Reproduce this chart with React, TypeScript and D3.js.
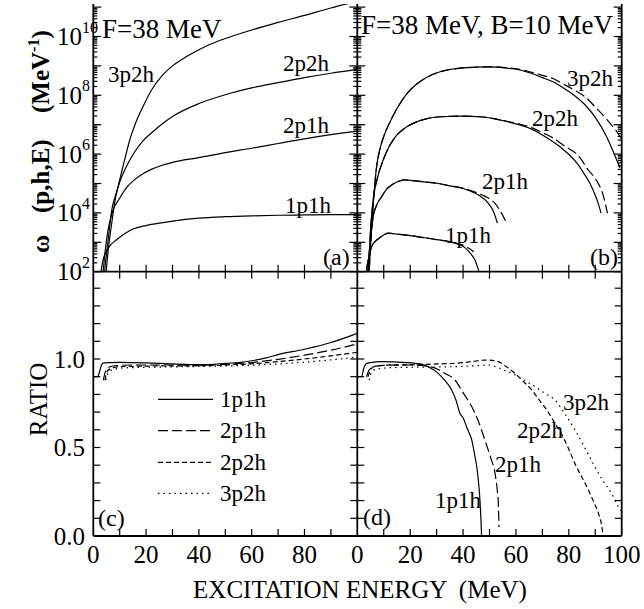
import React from 'react';
import * as d3 from 'd3';

type Pt = [number, number];

// Panel (a): log10 of omega(p,h,E) for the F = 38 MeV well (both calculations coincide)
const A_1P1H: Pt[] = [[2.6, 1.8], [3.0, 2.06], [4.0, 2.5], [4.9, 2.68], [6.5, 2.9], [8.7, 3.08], [12, 3.3], [15, 3.45], [20, 3.57], [26.4, 3.67], [30, 3.72], [40, 3.82], [50, 3.87], [60, 3.9], [70, 3.92], [80, 3.93], [90, 3.94], [100, 3.94]];
const A_2P1H: Pt[] = [[3.4, 1.8], [3.7, 2.0], [4.5, 2.7], [5.6, 3.42], [6.5, 3.8], [7.5, 4.1], [10, 4.5], [12.5, 4.85], [15, 5.08], [18.8, 5.33], [22, 5.48], [26.4, 5.63], [30, 5.72], [40, 5.88], [50, 6.05], [60, 6.2], [70, 6.36], [80, 6.52], [90, 6.66], [100, 6.78]];
const A_2P2H: Pt[] = [[4.0, 1.6], [4.3, 2.0], [5, 2.6], [6.2, 3.53], [7, 4.1], [8.7, 4.67], [10, 5.05], [12.5, 5.57], [15, 5.98], [18.8, 6.45], [22, 6.72], [26.4, 7.05], [30, 7.28], [40, 7.72], [50, 8.02], [60, 8.25], [70, 8.43], [80, 8.6], [90, 8.75], [100, 8.88]];
const A_3P2H: Pt[] = [[4.6, 1.6], [4.9, 2.0], [6, 3.0], [6.8, 3.53], [8, 4.3], [10, 5.12], [12, 5.85], [13.8, 6.48], [16, 7.05], [18.8, 7.61], [22, 8.17], [26.4, 8.7], [30, 9.0], [35, 9.3], [40, 9.55], [45, 9.76], [50, 9.93], [60, 10.22], [70, 10.48], [80, 10.72], [90, 10.97], [100, 11.2]];

// Panel (b): log10 of omega(p,h,E) with F = 38 MeV and B = 10 MeV (solid / dashed)
const B_1P1H_SOLID: Pt[] = [[3.2, 1.6], [3.5, 2.0], [4.5, 2.55], [5.4, 2.85], [7, 3.05], [8.6, 3.16], [10, 3.25], [11.7, 3.31], [15, 3.28], [20, 3.23], [24.4, 3.17], [30, 3.09], [37, 2.97], [40.7, 2.82], [43, 2.6], [44.5, 2.4], [45.5, 2.15], [46, 2.0], [46.3, 1.8]];
const B_1P1H_DASHED: Pt[] = [[3.2, 1.6], [3.5, 2.0], [4.5, 2.55], [5.4, 2.85], [7, 3.05], [8.6, 3.16], [10, 3.25], [11.7, 3.31], [15, 3.28], [20, 3.23], [24.4, 3.17], [30, 3.09], [37, 2.98], [40.7, 2.88], [42.5, 2.78], [44, 2.68]];
const B_2P1H_SOLID: Pt[] = [[3.6, 1.6], [4, 2.0], [5, 3.1], [6, 3.87], [7.5, 4.3], [9.2, 4.55], [11, 4.8], [13, 4.95], [15, 5.05], [18, 5.12], [22, 5.09], [26, 5.05], [30.6, 5.0], [35, 4.92], [40, 4.83], [43.3, 4.72], [46, 4.6], [49.5, 4.33], [51.5, 4.05], [53, 3.65]];
const B_2P1H_DASHED: Pt[] = [[3.6, 1.6], [4, 2.0], [5, 3.1], [6, 3.87], [7.5, 4.3], [9.2, 4.55], [11, 4.8], [13, 4.95], [15, 5.05], [18, 5.12], [22, 5.09], [26, 5.05], [30.6, 5.0], [35, 4.92], [40, 4.84], [43.3, 4.75], [47, 4.62], [50, 4.48], [52, 4.33], [54.5, 4.0], [56.5, 3.65]];
const B_2P2H_SOLID: Pt[] = [[4, 1.6], [4.2, 2.0], [5, 3.4], [6, 4.44], [7.5, 5.15], [9.8, 5.8], [12, 6.25], [15, 6.65], [18.7, 6.93], [22, 7.08], [26, 7.2], [31.3, 7.27], [40, 7.29], [46.4, 7.27], [52, 7.2], [57, 7.1], [61.5, 6.99], [66, 6.85], [70, 6.65], [74, 6.42], [78, 6.15], [83, 5.7], [86, 5.3], [88, 5.0], [90, 4.6], [91.2, 4.3], [92.2, 3.99]];
const B_2P2H_DASHED: Pt[] = [[4, 1.6], [4.2, 2.0], [5, 3.4], [6, 4.44], [7.5, 5.15], [9.8, 5.8], [12, 6.25], [15, 6.65], [18.7, 6.93], [22, 7.08], [26, 7.2], [31.3, 7.27], [40, 7.29], [46.4, 7.27], [52, 7.2], [57, 7.11], [61.5, 7.02], [66, 6.9], [70, 6.73], [74, 6.55], [78, 6.3], [84.2, 5.88], [87, 5.5], [90.5, 5.1], [93, 4.6], [94.6, 3.99]];
const B_3P2H_SOLID: Pt[] = [[4.3, 1.6], [4.5, 2.0], [5.5, 3.6], [7.3, 5.57], [8.5, 6.15], [10, 6.6], [12.4, 7.1], [15, 7.55], [18.7, 8.05], [22, 8.35], [26, 8.6], [31.3, 8.8], [40, 8.93], [50.2, 8.97], [56, 8.93], [61.5, 8.86], [66, 8.74], [70, 8.6], [74, 8.46], [78, 8.25], [82, 8.0], [86.8, 7.61], [90, 7.25], [94.3, 6.59], [96.5, 6.15], [98.1, 5.8], [99.4, 5.53]];
const B_3P2H_DASHED: Pt[] = [[4.3, 1.6], [4.5, 2.0], [5.5, 3.6], [7.3, 5.57], [8.5, 6.15], [10, 6.6], [12.4, 7.1], [15, 7.55], [18.7, 8.05], [22, 8.35], [26, 8.6], [31.3, 8.8], [40, 8.93], [50.2, 8.97], [56, 8.94], [61.5, 8.88], [66, 8.78], [70, 8.68], [74, 8.57], [78, 8.38], [82, 8.18], [86.8, 7.9], [90, 7.6], [93, 7.32], [95.6, 7.05], [97.5, 6.85], [99.4, 6.59], [101, 6.3]];

// Panel (c): ratio of the two calculations, F = 38 MeV
const C_1P1H: Pt[] = [[0, 0.9], [1.6, 0.9], [2.4, 0.93], [3.2, 0.97], [4, 0.978], [6, 0.98], [10, 0.981], [20, 0.978], [30, 0.972], [40, 0.968], [50, 0.975], [55, 0.98], [60, 0.99], [65, 1.005], [70, 1.025], [80, 1.055], [90, 1.093], [100, 1.145]];
const C_2P1H: Pt[] = [[3.8, 0.88], [4.3, 0.915], [5, 0.94], [6, 0.955], [8, 0.962], [15, 0.966], [30, 0.966], [40, 0.965], [50, 0.97], [60, 0.98], [70, 0.998], [80, 1.022], [90, 1.05], [100, 1.085]];
const C_2P2H: Pt[] = [[4.4, 0.88], [4.8, 0.91], [5.5, 0.935], [7, 0.948], [10, 0.956], [20, 0.96], [40, 0.962], [50, 0.966], [60, 0.973], [70, 0.985], [80, 1.0], [90, 1.018], [100, 1.038]];
const C_3P2H: Pt[] = [[4.8, 0.88], [5.2, 0.905], [6, 0.93], [8, 0.943], [12, 0.95], [20, 0.953], [40, 0.958], [60, 0.965], [70, 0.972], [80, 0.982], [90, 0.995], [100, 1.01]];

// Panel (d): ratio of the two calculations, F = 38 MeV, B = 10 MeV
const D_1P1H: Pt[] = [[0, 0.9], [1.6, 0.9], [2.5, 0.95], [3.2, 0.972], [5, 0.98], [9.2, 0.985], [14, 0.984], [18, 0.98], [22, 0.975], [24.4, 0.97], [27, 0.955], [30.6, 0.919], [33, 0.88], [35.7, 0.825], [37.5, 0.76], [38.8, 0.693], [40.1, 0.665], [41.5, 0.61], [43.3, 0.542], [44.5, 0.45], [45.2, 0.39], [46, 0.28], [46.4, 0.2], [46.8, 0.08], [47, 0]];
const D_2P1H: Pt[] = [[3.5, 0.9], [4.2, 0.93], [5.4, 0.95], [7, 0.96], [12, 0.965], [20, 0.966], [25, 0.962], [30, 0.945], [33, 0.92], [37, 0.88], [40, 0.81], [43.3, 0.73], [46, 0.64], [48.3, 0.54], [50.5, 0.44], [52.1, 0.354], [53, 0.25], [53.3, 0.2], [53.6, 0.05]];
const D_2P2H: Pt[] = [[4, 0.9], [4.8, 0.93], [6, 0.955], [10, 0.965], [20, 0.968], [30, 0.972], [37, 0.976], [43, 0.985], [48.3, 0.994], [51, 0.992], [53.3, 0.985], [56.5, 0.955], [59.6, 0.919], [63, 0.87], [66, 0.825], [69, 0.765], [72.2, 0.7], [75, 0.63], [77.3, 0.575], [80, 0.49], [82.3, 0.41], [85, 0.33], [87.4, 0.26], [89.5, 0.19], [91.2, 0.128], [92.3, 0.07], [93, 0.0]];
const D_3P2H: Pt[] = [[4.5, 0.88], [5, 0.91], [6, 0.935], [8, 0.945], [15, 0.952], [30, 0.955], [40, 0.958], [45, 0.962], [49.5, 0.966], [52, 0.958], [55, 0.94], [58.4, 0.919], [62, 0.89], [67.2, 0.844], [71, 0.805], [74.8, 0.768], [78.5, 0.69], [82.3, 0.6], [86, 0.5], [89.9, 0.39], [93, 0.31], [96.2, 0.24], [98.7, 0.166], [100.6, 0.128]];

const SERIES = ['1p1h', '2p1h', '2p2h', '3p2h'];
const X_LABELS_LEFT = [0, 20, 40, 60, 80];
const X_LABELS_RIGHT = [0, 20, 40, 60, 80, 100];
const LOG_LABEL_EXPONENTS = [2, 4, 6, 8, 10];
const RATIO_LABELS = [0, 0.5, 1.0];

const SERIF = { fontFamily: '"Liberation Serif"' };
const DASH: Record<string, string | undefined> = {
  '1p1h': undefined,
  '2p1h': '10,4',
  '2p2h': '5,3',
  '3p2h': '1.5,4',
};
const LONG_DASH = '10,4';

// geometry
const X0 = 93.3, XM = 357.3, X1 = 621.7;
const YT = 4, YM = 271.7, YB = 536;

const xA = d3.scaleLinear().domain([0, 100]).range([X0, XM]);
const xB = d3.scaleLinear().domain([0, 100]).range([XM, X1]);
const yLog = d3.scaleLog().domain([1e2, 1e11]).range([YM, 7.1]);
const yRatio = d3.scaleLinear().domain([0, 1.5]).range([YB, 270.5]);

function logPath(x: d3.ScaleLinear<number, number>, data: Pt[]) {
  return d3.line<Pt>()
    .x(d => x(d[0]))
    .y(d => yLog(Math.pow(10, d[1])))
    .curve(d3.curveMonotoneX)(data) || '';
}
function ratioPath(x: d3.ScaleLinear<number, number>, data: Pt[]) {
  return d3.line<Pt>()
    .x(d => x(d[0]))
    .y(d => yRatio(d[1]))
    .curve(d3.curveMonotoneX)(data) || '';
}

function T(props: React.SVGProps<SVGTextElement>) {
  const { style, ...rest } = props;
  return <text {...rest} style={{ ...SERIF, ...(style || {}) }} />;
}

function LogTicks({ x, dir }: { x: number; dir: number }) {
  const vals = yLog.ticks();
  return (
    <g stroke="#000" strokeWidth={1.2}>
      {vals.map((v, i) => {
        const e = Math.log10(v);
        const major = Math.abs(e - Math.round(e)) < 1e-6;
        const y = yLog(v);
        if (y < YT) return null;
        return <line key={i} x1={x} x2={x + dir * (major ? 8 : 4)} y1={y} y2={y} />;
      })}
    </g>
  );
}

function RatioTicks({ x, dir }: { x: number; dir: number }) {
  const vals = d3.range(1, 15).map(i => i / 10);
  return (
    <g stroke="#000" strokeWidth={1.2}>
      {vals.map((v, i) => (
        <line key={i} x1={x} x2={x + dir * 7} y1={yRatio(v)} y2={yRatio(v)} />
      ))}
    </g>
  );
}

function XTicks({ x, y, dir }: { x: d3.ScaleLinear<number, number>; y: number; dir: number }) {
  const vals = x.ticks(10).filter(v => v > 0 && v < 100);
  return (
    <g stroke="#000" strokeWidth={1.2}>
      {vals.map((v, i) => (
        <line key={i} x1={x(v)} x2={x(v)} y1={y} y2={y + dir * 7} />
      ))}
    </g>
  );
}

export default function App() {
  const aSeries = [A_1P1H, A_2P1H, A_2P2H, A_3P2H];
  const bSolid = [B_1P1H_SOLID, B_2P1H_SOLID, B_2P2H_SOLID, B_3P2H_SOLID];
  const bDashed = [B_1P1H_DASHED, B_2P1H_DASHED, B_2P2H_DASHED, B_3P2H_DASHED];
  const cSeries = [C_1P1H, C_2P1H, C_2P2H, C_3P2H];
  const dSeries = [D_1P1H, D_2P1H, D_2P2H, D_3P2H];

  const curve = { fill: 'none', stroke: '#000', strokeWidth: 1.2 } as const;
  const legendRows = [399.3, 430.7, 462.3, 493.3];

  const labelsA: [string, number, number][] = [['3p2h', 108, 82], ['2p2h', 283, 70.5], ['2p1h', 283, 132.5], ['1p1h', 285, 212.5]];
  const labelsB: [string, number, number][] = [['3p2h', 567, 85.5], ['2p2h', 532, 125.5], ['2p1h', 482, 188.5], ['1p1h', 445, 242.5]];
  const labelsD: [string, number, number][] = [['3p2h', 563, 410], ['2p2h', 517, 438], ['2p1h', 495, 472], ['1p1h', 435, 508]];

  return (
    <svg width={644} height={609}
      style={{ position: 'absolute', left: 0, top: 0, background: '#fff' }}
      fill="#000">
      <defs>
        <clipPath id="clipA"><rect x={X0} y={YT} width={XM - X0} height={YM - YT} /></clipPath>
        <clipPath id="clipB"><rect x={XM} y={YT} width={X1 - XM} height={YM - YT} /></clipPath>
        <clipPath id="clipC"><rect x={X0} y={YM} width={XM - X0} height={YB - YM} /></clipPath>
        <clipPath id="clipD"><rect x={XM} y={YM} width={X1 - XM} height={YB - YM} /></clipPath>
      </defs>

      {/* curves */}
      <g clipPath="url(#clipA)">
        {aSeries.map((s, i) => <path key={i} d={logPath(xA, s)} {...curve} />)}
      </g>
      <g clipPath="url(#clipB)">
        {bSolid.map((s, i) => <path key={'s' + i} d={logPath(xB, s)} {...curve} />)}
        {bDashed.map((s, i) => <path key={'d' + i} d={logPath(xB, s)} {...curve} strokeDasharray={LONG_DASH} />)}
      </g>
      <g clipPath="url(#clipC)">
        {cSeries.map((s, i) => <path key={i} d={ratioPath(xA, s)} {...curve} strokeDasharray={DASH[SERIES[i]]} />)}
      </g>
      <g clipPath="url(#clipD)">
        {dSeries.map((s, i) => <path key={i} d={ratioPath(xB, s)} {...curve} strokeDasharray={DASH[SERIES[i]]} />)}
      </g>

      {/* frames */}
      <g stroke="#000" strokeWidth={1.8} fill="none">
        <line x1={X0} x2={X0} y1={YT} y2={YB} />
        <line x1={XM} x2={XM} y1={YT} y2={YB} />
        <line x1={X1} x2={X1} y1={YT} y2={YB} />
        <line x1={X0} x2={X1} y1={YM} y2={YM} />
        <line x1={X0} x2={X1} y1={YB} y2={YB} />
      </g>

      {/* ticks */}
      <LogTicks x={X0} dir={1} />
      <LogTicks x={XM} dir={-1} />
      <LogTicks x={XM} dir={1} />
      <LogTicks x={X1} dir={-1} />
      <RatioTicks x={X0} dir={1} />
      <RatioTicks x={XM} dir={-1} />
      <RatioTicks x={XM} dir={1} />
      <RatioTicks x={X1} dir={-1} />
      <XTicks x={xA} y={YM} dir={-1} />
      <XTicks x={xB} y={YM} dir={-1} />
      <XTicks x={xA} y={YM} dir={1} />
      <XTicks x={xB} y={YM} dir={1} />
      <XTicks x={xA} y={YB} dir={-1} />
      <XTicks x={xB} y={YB} dir={-1} />

      {/* y tick labels, top */}
      {LOG_LABEL_EXPONENTS.map(e => {
        const y = yLog(Math.pow(10, e));
        return (
          <g key={e}>
            <T x={82} y={y + 8.5} fontSize={25} textAnchor="end">10</T>
            <T x={82} y={y - 4} fontSize={16}>{e}</T>
          </g>
        );
      })}
      {/* y tick labels, bottom */}
      {RATIO_LABELS.map(v => (
        <T key={v} x={85} y={yRatio(v) + 8.5} fontSize={25} textAnchor="end">{v.toFixed(1)}</T>
      ))}
      {/* x tick labels */}
      {X_LABELS_LEFT.map(v => (
        <T key={'l' + v} x={xA(v)} y={563} fontSize={25} textAnchor="middle">{v}</T>
      ))}
      {X_LABELS_RIGHT.map(v => (
        <T key={'r' + v} x={xB(v)} y={563} fontSize={25} textAnchor="middle">{v}</T>
      ))}

      {/* axis titles */}
      <T x={360} y={598} fontSize={25} textAnchor="middle" style={{ whiteSpace: 'pre' }}>EXCITATION ENERGY  (MeV)</T>
      <T transform="translate(47,399.5) rotate(-90)" fontSize={25} textAnchor="middle">RATIO</T>
      <T transform="translate(49,253) rotate(-90)" fontSize={25} fontWeight="bold">ω</T>
      <T transform="translate(49,213) rotate(-90)" fontSize={25} fontWeight="bold">(p,h,E)</T>
      <T transform="translate(49,113) rotate(-90)" fontSize={25} fontWeight="bold">
        <tspan>(MeV</tspan>
        <tspan fontSize={16} dy={-10}>-1</tspan>
        <tspan dy={10}>)</tspan>
      </T>

      {/* panel headings */}
      <T x={102} y={38} fontSize={27}>F=38 MeV</T>
      <T x={361} y={34} fontSize={27}>F=38 MeV, B=10 MeV</T>
      <T x={323} y={265} fontSize={24}>(a)</T>
      <T x={590} y={265} fontSize={24}>(b)</T>
      <T x={98} y={526} fontSize={24}>(c)</T>
      <T x={363} y={525} fontSize={24}>(d)</T>

      {/* curve labels */}
      {[...labelsA, ...labelsB, ...labelsD].map(([t, x, y], i) => (
        <T key={i} x={x} y={y} fontSize={23}>{t}</T>
      ))}

      {/* legend */}
      {SERIES.map((s, i) => (
        <g key={s}>
          <line x1={158} x2={213} y1={legendRows[i]} y2={legendRows[i]} stroke="#000" strokeWidth={1.2} strokeDasharray={DASH[s]} />
          <T x={220} y={legendRows[i] + 7.5} fontSize={23}>{s}</T>
        </g>
      ))}
    </svg>
  );
}
